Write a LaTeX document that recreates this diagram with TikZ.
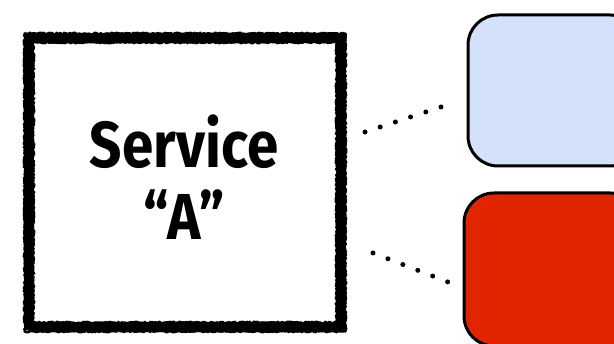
\documentclass[tikz,border=0pt]{standalone}
\usepackage{fontspec}
\setmainfont{Fira Sans}
\usetikzlibrary{decorations.pathmorphing}
\definecolor{paleblue}{HTML}{D3E1FA}
\definecolor{brightred}{HTML}{E02500}
\pgfmathsetseed{7}
\tikzset{
  roughbox/.style={draw=black, line width=9pt, line join=round, line cap=round},
  roughedge/.style={draw=black, line width=2.2pt, line join=round, line cap=round,
    decorate, decoration={random steps, segment length=1.2pt, amplitude=0.9pt}},
  svcbox/.style={draw=black, line width=3pt, rounded corners=30pt},
  dotline/.style={line width=5pt, line cap=round, dash pattern=on 0pt off 16pt},
  label/.style={font=\bfseries\fontsize{65}{60}\selectfont, inner sep=0pt, xscale=0.87}
}
\begin{document}
\begin{tikzpicture}[x=1pt,y=-1pt]
\useasboundingbox (0,0) rectangle (614,344);
\fill[white] (0,0) rectangle (614,344);
% service A box
\draw[black!60, line width=8pt, opacity=0.25] (30,40) rectangle (342,329);
\draw[roughbox] (29,38) rectangle (341,327);
\draw[roughedge] (24.5,33.5) -- (345.5,33.5) -- (345.5,331.5) -- (24.5,331.5) -- cycle;
\draw[roughedge] (33.5,42.5) -- (336.5,42.5) -- (336.5,322.5) -- (33.5,322.5) -- cycle;
\node[label, anchor=base] (svc) at (184,168) {Service};
\node[label, anchor=base] (svcA) at (184,240) {``A''};
% right boxes
\draw[svcbox, fill=paleblue] (468,15) rectangle (640,166);
\node[inner sep=0pt] (blue) at (554,90) {};
\draw[svcbox, fill=brightred] (464,193) rectangle (640,346);
\node[inner sep=0pt] (red) at (552,270) {};
% dotted connectors
\coordinate (a1) at (365,132);
\coordinate (a2) at (441,107);
\coordinate (b1) at (373,253);
\coordinate (b2) at (448,282);
\draw[dotline] (a1) -- (a2);
\draw[dotline] (b1) -- (b2);
\end{tikzpicture}
\end{document}
